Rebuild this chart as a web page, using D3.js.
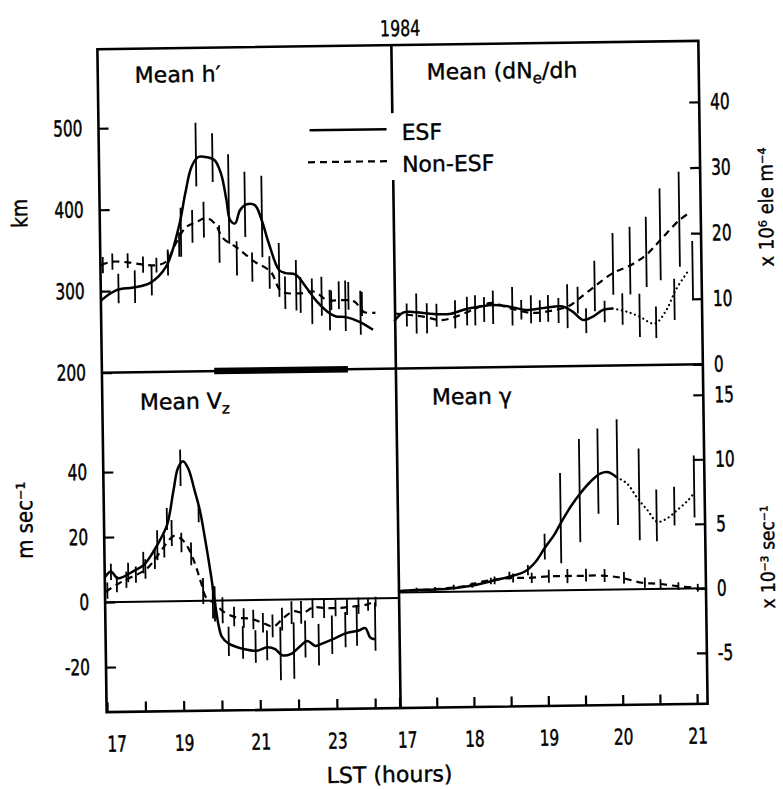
<!DOCTYPE html>
<html>
<head>
<meta charset="utf-8">
<script src="https://cdn.jsdelivr.net/npm/d3@7"></script>
<style>
  body { margin: 0; background: #fff; }
  svg { display: block; }
</style>
</head>
<body>
<div id="chart"></div>
<script>
// Data (hours LST, value)
//-------------------------------------------------------
// Mean h' (km)
var hEsf = [[17.0,289],[17.4,301],[17.84,304],[18.27,309],[18.7,329],[19.05,378],[19.23,419],[19.4,451],[19.58,463],[19.75,463],[20.0,459],[20.17,442],[20.3,410],[20.39,385],[20.52,381],[20.65,397],[20.82,404],[21.04,403],[21.21,385],[21.39,356],[21.65,323],[21.82,319],[22.08,317],[22.34,302],[22.6,285],[22.95,269],[23.12,265],[23.38,264],[23.73,258],[24.08,248]];
var hNon = [[17.0,332],[17.3,336],[17.7,335],[18.1,332],[18.45,331],[18.7,335],[18.97,358],[19.23,377],[19.5,383],[19.77,388],[19.99,381],[20.2,363],[20.56,351],[21.0,334],[21.43,321],[21.7,297],[22.2,294],[22.55,296],[22.9,285],[23.25,285],[23.6,283],[23.85,270],[24.15,269]];
// bars: hour, mean, half range
var hEsfBars = [[17.45,303,18],[17.88,305,20],[18.32,312,18],[18.75,334,16],[19.1,371,30],[19.52,466,39],[19.95,462,30],[20.36,411,55],[20.78,404,40],[21.22,389,50],[21.65,323,33],[22.09,304,31],[22.5,284,28],[22.96,273,25],[23.37,278,31],[23.76,269,27]];
var hNonBars = [[17.05,332,10],[17.3,336,10],[17.7,337,9],[18.1,332,10],[18.45,331,9],[18.75,337,10],[19.05,356,15],[19.4,378,20],[19.7,386,22],[20.1,356,23],[20.55,338,21],[20.95,327,18],[21.4,320,20],[21.8,295,20],[22.2,292,22],[22.75,290,24],[23.0,285,12],[23.2,291,17],[23.45,290,17],[23.8,280,15]];

// Mean dNe/dh (x10^6 ele m^-4)
var dnEsf = [[17.0,7.2],[17.12,8.5],[17.25,8.6],[17.43,8.35],[17.74,8.2],[17.96,8.9],[18.14,9.25],[18.33,9.5],[18.55,9.2],[18.78,8.65],[19.0,8.9],[19.27,9.1],[19.4,8.3],[19.54,7.0],[19.67,7.5],[19.81,8.5],[19.94,8.7]];
var dnEsfDot = [[19.94,8.7],[20.12,8.2],[20.3,7.4],[20.5,6.3],[20.66,8.35],[20.79,11.4],[20.97,14.4]];
var dnNon = [[17.0,8.4],[17.37,7.9],[17.64,7.3],[17.86,7.9],[18.1,9.0],[18.31,9.8],[18.54,9.0],[18.85,8.2],[19.12,8.5],[19.34,9.1],[19.47,10.1],[19.7,12.1],[19.95,14.1],[20.18,15.2],[20.4,16.8],[20.59,19.0],[20.85,22.0],[21.0,23.2]];
var dnEsfBars = [[17.3,8.35,3.05],[17.57,8.05,1.75],[17.82,8.15,2.15],[18.09,8.7,2.3],[18.33,9.15,2.55],[18.59,9.25,2.95],[18.84,8.75,2.15],[19.07,8.85,2.05],[19.33,9.15,3.35],[19.58,6.9,1.9],[19.83,8.25,1.65],[20.07,8.6,2.4],[20.3,7.6,3.3],[20.52,6.5,2.4],[20.77,9.95,3.15],[21.02,14.4,4.4]];
var dnNonBars = [[17.17,8.15,1.75],[17.44,7.6,2.3],[17.98,8.6,2.2],[18.21,8.8,1.9],[18.71,8.7,1.5],[18.96,8.45,1.65],[19.21,8.5,1.9],[19.47,10.05,2.05],[19.7,12.15,3.85],[19.95,15.5,4.7],[20.18,15.95,5.15],[20.4,17.25,5.35],[20.59,19.9,7.0],[20.85,22.15,7.25]];

// Mean Vz (m/s)
var vzEsf = [[17.0,7.8],[17.15,9.4],[17.33,7.3],[17.72,9.3],[18.02,11.4],[18.37,17.4],[18.63,23.4],[18.81,33.9],[18.94,41.0],[19.07,43.0],[19.2,40.9],[19.37,33.7],[19.5,27.5],[19.63,18.2],[19.76,7.9],[19.85,-0.3],[19.94,-7.5],[20.02,-11.1],[20.2,-13.3],[20.59,-15.0],[20.94,-15.6],[21.2,-14.6],[21.41,-15.2],[21.59,-17.1],[21.81,-16.8],[22.07,-14.3],[22.25,-12.8],[22.46,-14.4],[22.59,-13.9],[22.94,-12.3],[23.29,-10.5],[23.6,-9.8],[23.77,-9.1],[23.9,-12.1],[24.03,-12.6]];
var vzNon = [[17.0,3.2],[17.37,5.8],[17.72,7.8],[18.07,9.9],[18.37,14.0],[18.59,17.5],[18.81,20.1],[19.02,18.9],[19.2,15.8],[19.37,10.6],[19.5,5.5],[19.63,0.9],[19.85,-0.9],[20.07,-3.4],[20.42,-5.3],[20.77,-5.7],[21.12,-7.2],[21.38,-8.2],[21.64,-5.6],[21.9,-3.6],[22.16,-4.1],[22.42,-2.5],[22.77,-2.8],[23.11,-2.8],[23.46,-2.4],[23.81,-1.9],[24.03,-0.9]];
var vzEsfBars = [[17.15,9.3,2.5],[17.6,9,3],[18.0,12,3.3],[18.37,17.3,4.6],[18.63,25.3,3.4],[19.0,41,5.6],[19.46,26.8,2.6],[19.85,-1,5.4],[20.2,-12.6,4.5],[20.57,-13,5],[20.9,-14.3,5],[21.2,-14,4.6],[21.55,-16.6,8.2],[21.9,-15.7,8.7],[22.2,-12.2,5.7],[22.55,-14,6.4],[22.9,-11,5.9],[23.25,-9.5,5.4],[23.55,-8.5,6],[24.03,-8.7,7.4]];
var vzNonBars = [[17.05,3.5,2.5],[17.3,5.5,2.5],[17.55,6.8,2.5],[17.8,8.3,2.5],[18.05,10,3],[18.3,13,3],[18.55,17,3.5],[18.75,21,4],[19.0,18,3],[19.25,14.5,3.5],[19.55,3,4],[19.8,-0.5,5],[20.05,-3,4],[20.35,-5,3],[20.6,-5.5,3],[20.85,-6,3],[21.1,-7,3],[21.35,-8,3.5],[21.6,-6,3.5],[21.85,-4,3.5],[22.1,-4,3.5],[22.4,-2.8,3],[22.7,-2.8,3],[23.0,-2.8,2.5],[23.3,-2.5,2.5],[23.6,-2.2,2.5],[23.85,-1.8,2],[24.05,-1,1.5]];

// Mean gamma (x10^-3 /s)
var gEsf = [[17.0,0.1],[17.23,0.18],[17.5,0.2],[17.77,0.3],[18.04,0.5],[18.26,0.8],[18.49,1.1],[18.71,1.5],[18.85,2.2],[18.98,3.3],[19.11,4.3],[19.2,5.2],[19.34,6.5],[19.47,7.5],[19.61,8.4],[19.74,9.0],[19.85,9.1],[19.96,8.7]];
var gEsfDot = [[19.96,8.7],[20.1,8.2],[20.23,7.1],[20.37,6.1],[20.5,5.2],[20.64,5.5],[20.77,6.1],[20.91,6.8],[21.0,7.4]];
var gNon = [[17.0,0.1],[17.41,0.2],[17.86,0.4],[18.17,0.8],[18.49,1.0],[18.76,1.0],[19.02,1.1],[19.25,1.1],[19.47,1.1],[19.74,1.1],[20.01,0.9],[20.28,0.5],[20.5,0.4],[20.75,0.2],[21.0,0.05]];
var gEsfBars = [[17.25,0.2,0.15],[17.5,0.25,0.15],[17.75,0.35,0.2],[18.0,0.5,0.2],[18.25,0.8,0.25],[18.5,1.2,0.3],[18.75,1.6,0.4],[18.98,3.4,1.0],[19.2,5.6,3.5],[19.46,7.7,4.0],[19.71,9.2,3.3],[19.97,9.1,4.1],[20.26,7.35,3.55],[20.49,5.7,2.0],[20.73,6.4,1.5],[21.0,7.9,2.4]];
var gNonBars = [[18.3,0.85,0.3],[18.55,1.0,0.35],[18.8,1.0,0.4],[19.03,1.1,0.5],[19.28,1.1,0.55],[19.53,1.15,0.5],[19.78,1.1,0.5],[20.04,0.9,0.45],[20.32,0.5,0.4],[20.53,0.4,0.35],[20.77,0.2,0.3],[21.03,0.05,0.3]];

// ESF occurrence period drawn on the divider
var esfBand = [19.92, 23.41];

// tick values
var hTicks = [200, 300, 400, 500];
var dnTicks = [0, 10, 20, 30, 40];
var vzTicks = [-20, 0, 20, 40];
var gTicks = [-5, 0, 5, 10, 15];
var lstLeftTicks = [17, 18, 19, 20, 21, 22, 23, 24];
var lstLeftLabels = [17, 19, 21, 23];
var lstRightTicks = [17, 17.5, 18, 18.5, 19, 19.5, 20, 20.5, 21];
var lstRightLabels = [17, 18, 19, 20, 21];

// Set up SVG
//-------------------------------------------------------
var svgWidth = 783;
var svgHeight = 789;
var frame = { left: 102, right: 703, top: 45, bottom: 708, midX: 396, midY: 368.5 };
var FONT = "DejaVu Sans, Verdana, sans-serif";

var svg = d3.select("#chart")
    .append("svg")
    .attr("width", svgWidth)
    .attr("height", svgHeight)
    .style("background", "#fff");

// the scanned figure is slightly rotated
var chart = svg.append("g")
    .attr("transform", "rotate(-0.8, 402, 377)")
    .attr("font-family", FONT);

// Scales
//-------------------------------------------------------
var xLeft = d3.scaleLinear().domain([17, 24.65]).range([102.5, 395.5]);
var xRight = d3.scaleLinear().domain([17, 21.14]).range([395, 703]);
var yH = d3.scaleLinear().domain([200, 597]).range([frame.midY, frame.top]);
var yDn = d3.scaleLinear().domain([0, 49.3]).range([frame.midY, frame.top]);
var yVz = d3.scaleLinear().domain([-33.85, 70.6]).range([frame.bottom, frame.midY]);
var yG = d3.scaleLinear().domain([-8.95, 17.36]).range([frame.bottom, frame.midY]);

// Helpers
//-------------------------------------------------------
function drawCurve(x, y, pts, style) {
    var line = d3.line()
        .x(d => x(d[0]))
        .y(d => y(d[1]))
        .curve(d3.curveCatmullRom.alpha(0.5));
    var p = chart.append("path")
        .datum(pts)
        .attr("d", line)
        .attr("fill", "none")
        .attr("stroke", "#000");
    if (style === "dash") {
        p.attr("stroke-width", 2.2).attr("stroke-dasharray", "7,5");
    } else if (style === "dot") {
        p.attr("stroke-width", 2.2).attr("stroke-dasharray", "0.1,4.5").attr("stroke-linecap", "round");
    } else {
        p.attr("stroke-width", 2.5);
    }
    return p;
}

function drawBars(x, y, bars) {
    chart.append("g").selectAll("line")
        .data(bars)
        .enter()
        .append("line")
        .attr("x1", d => x(d[0]))
        .attr("x2", d => x(d[0]))
        .attr("y1", d => y(d[1] - d[2]))
        .attr("y2", d => y(d[1] + d[2]))
        .attr("stroke", "#000")
        .attr("stroke-width", 1.8);
}

// condensed lettering, like the original
function label(x, y, str, size, sx, anchor, rot) {
    var g = chart.append("g")
        .attr("transform", `translate(${x},${y})` + (rot ? ` rotate(${rot})` : "") + ` scale(${sx},1)`);
    return g.append("text")
        .attr("font-size", size)
        .attr("text-anchor", anchor || "start")
        .attr("fill", "#000")
        .attr("stroke", "#000")
        .attr("stroke-width", 0.4)
        .text(str);
}

function styleAxis(g, dx) {
    g.select(".domain").remove();
    g.selectAll(".tick line").attr("stroke", "#000").attr("stroke-width", 2.2);
    g.selectAll(".tick text")
        .attr("font-size", 22)
        .attr("font-family", FONT)
        .attr("fill", "#000")
        .attr("stroke", "#000")
        .attr("stroke-width", 0.5);
    if (dx !== null) {
        g.selectAll(".tick text").attr("x", dx / 0.7).attr("transform", "scale(0.7,1)");
    }
}

// Axes
//-------------------------------------------------------
var axH = chart.append("g").attr("transform", `translate(${frame.left},0)`)
    .call(d3.axisLeft(yH).tickValues(hTicks).tickSize(-10).tickPadding(16));
styleAxis(axH, -16);

var axVz = chart.append("g").attr("transform", `translate(${frame.left},0)`)
    .call(d3.axisLeft(yVz).tickValues(vzTicks).tickSize(-10).tickPadding(16));
styleAxis(axVz, -16);

var axDn = chart.append("g").attr("transform", `translate(${frame.right},0)`)
    .call(d3.axisRight(yDn).tickValues(dnTicks).tickSize(-10).tickPadding(11));
styleAxis(axDn, 11);

var axG = chart.append("g").attr("transform", `translate(${frame.right},0)`)
    .call(d3.axisRight(yG).tickValues(gTicks).tickSize(-10).tickPadding(11)
        .tickFormat(d => d < 0 ? "-" + Math.abs(d) : d));
styleAxis(axG, 11);

var axXL = chart.append("g").attr("transform", `translate(0,${frame.bottom})`)
    .call(d3.axisBottom(xLeft).tickValues(lstLeftTicks).tickSize(-10).tickPadding(24)
        .tickFormat(d => lstLeftLabels.indexOf(d) >= 0 ? d : ""));
styleAxis(axXL, 0);
axXL.selectAll(".tick text").filter(d => d === 17).attr("x", 9 / 0.7);

var axXR = chart.append("g").attr("transform", `translate(0,${frame.bottom})`)
    .call(d3.axisBottom(xRight).tickValues(lstRightTicks).tickSize(-10).tickPadding(24)
        .tickFormat(d => lstRightLabels.indexOf(d) >= 0 ? d : ""));
styleAxis(axXR, 0);
axXR.selectAll(".tick text").filter(d => d === 17).attr("x", 7 / 0.7);

// Vz axis minus signs
axVz.selectAll(".tick text").text(d => d < 0 ? "-" + Math.abs(d) : d);

// Frame and dividers
//-------------------------------------------------------
chart.append("rect")
    .attr("x", frame.left).attr("y", frame.top)
    .attr("width", frame.right - frame.left)
    .attr("height", frame.bottom - frame.top)
    .attr("fill", "none").attr("stroke", "#000").attr("stroke-width", 2.6);

chart.append("line")
    .attr("x1", frame.left).attr("x2", frame.right)
    .attr("y1", frame.midY).attr("y2", frame.midY)
    .attr("stroke", "#000").attr("stroke-width", 2.6);

// middle divider, broken where the legend text crosses
chart.append("line")
    .attr("x1", frame.midX).attr("x2", frame.midX)
    .attr("y1", frame.top).attr("y2", 113)
    .attr("stroke", "#000").attr("stroke-width", 2.6);
chart.append("line")
    .attr("x1", frame.midX).attr("x2", frame.midX)
    .attr("y1", 180).attr("y2", frame.bottom)
    .attr("stroke", "#000").attr("stroke-width", 2.6);

// zero lines
chart.append("line")
    .attr("x1", frame.left).attr("x2", frame.midX)
    .attr("y1", yVz(0)).attr("y2", yVz(0))
    .attr("stroke", "#000").attr("stroke-width", 2);
chart.append("line")
    .attr("x1", frame.midX).attr("x2", frame.right)
    .attr("y1", yG(0)).attr("y2", yG(0))
    .attr("stroke", "#000").attr("stroke-width", 2);

// ESF period bar
chart.append("line")
    .attr("x1", xLeft(esfBand[0])).attr("x2", xLeft(esfBand[1]))
    .attr("y1", frame.midY).attr("y2", frame.midY)
    .attr("stroke", "#000").attr("stroke-width", 6.5);

// Series
//-------------------------------------------------------
drawBars(xLeft, yH, hEsfBars);
drawBars(xLeft, yH, hNonBars);
drawCurve(xLeft, yH, hEsf, "solid");
drawCurve(xLeft, yH, hNon, "dash");

drawBars(xRight, yDn, dnEsfBars);
drawBars(xRight, yDn, dnNonBars);
drawCurve(xRight, yDn, dnEsf, "solid");
drawCurve(xRight, yDn, dnEsfDot, "dot");
drawCurve(xRight, yDn, dnNon, "dash");

drawBars(xLeft, yVz, vzEsfBars);
drawBars(xLeft, yVz, vzNonBars);
drawCurve(xLeft, yVz, vzEsf, "solid");
drawCurve(xLeft, yVz, vzNon, "dash");

drawBars(xRight, yG, gEsfBars);
drawBars(xRight, yG, gNonBars);
drawCurve(xRight, yG, gEsf, "solid");
drawCurve(xRight, yG, gEsfDot, "dot");
drawCurve(xRight, yG, gNon, "dash");

// Legend
//-------------------------------------------------------
chart.append("line").attr("x1", 313).attr("x2", 390).attr("y1", 129).attr("y2", 129)
    .attr("stroke", "#000").attr("stroke-width", 2.5);
chart.append("line").attr("x1", 311).attr("x2", 390).attr("y1", 161).attr("y2", 161)
    .attr("stroke", "#000").attr("stroke-width", 2.2).attr("stroke-dasharray", "7,5");
label(405, 140, "ESF", 22, 1);
label(405, 172, "Non-ESF", 22, 1);

// Titles and axis labels
//-------------------------------------------------------
label(405, 36, "1984", 22, 0.72, "middle");
label(139, 79, "Mean h\u2032", 22, 1);

var t2 = label(431, 80, "Mean (dN", 22, 1);
t2.append("tspan").attr("font-size", 15).attr("dy", 5).text("e");
t2.append("tspan").attr("dy", -5).text("/dh");

var t3 = label(139.5, 406, "Mean V", 22, 1);
t3.append("tspan").attr("font-size", 15).attr("dy", 5).text("z");

label(431.6, 405, "Mean \u03b3", 22, 1);

label(384, 782, "LST (hours)", 22, 1, "middle");

label(22, 208, "km", 22, 0.85, "middle", -90).attr("dominant-baseline", "central");
label(23, 515, "m sec\u207b\u00b9", 22, 0.9, "middle", -90).attr("dominant-baseline", "central");
label(768, 212, "x 10\u2076 ele m\u207b\u2074", 20, 0.9, "middle", -90).attr("dominant-baseline", "central");
label(765, 562, "x 10\u207b\u00b3 sec\u207b\u00b9", 19, 0.9, "middle", -90).attr("dominant-baseline", "central");
</script>
</body>
</html>
